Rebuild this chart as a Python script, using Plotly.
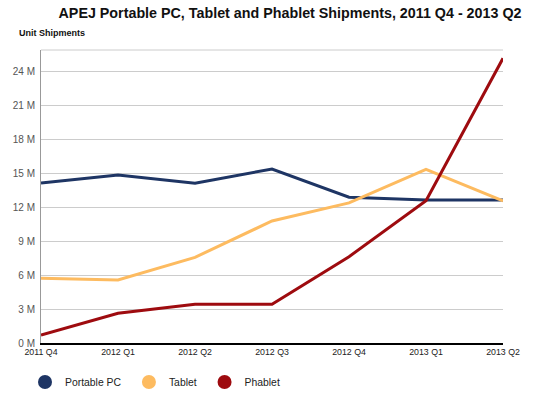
import plotly.graph_objects as go

quarters = ["2011 Q4", "2012 Q1", "2012 Q2", "2012 Q3", "2012 Q4", "2013 Q1", "2013 Q2"]
portable_pc = [14.15, 14.87, 14.13, 15.4, 12.9, 12.65, 12.65]
tablet = [5.72, 5.57, 7.58, 10.8, 12.4, 15.37, 12.57]
phablet = [0.7, 2.63, 3.42, 3.42, 7.64, 12.6, 25.2]
y_ticks = [0, 3, 6, 9, 12, 15, 18, 21, 24]
y_tick_labels = [f"{v} M" for v in y_ticks]

series = [
    ("Portable PC", portable_pc, "#1e3564"),
    ("Tablet", tablet, "#fdbb60"),
    ("Phablet", phablet, "#9e0b0f"),
]

fig = go.Figure()
for name, vals, color in series:
    fig.add_trace(go.Scatter(
        x=list(range(len(quarters))), y=vals, mode="lines", name=name,
        line=dict(color=color, width=3), showlegend=False,
    ))
for name, vals, color in series:
    fig.add_trace(go.Scatter(
        x=[None], y=[None], mode="markers", name=name + "\u00a0",
        marker=dict(color=color, size=14), showlegend=True,
    ))

font = "Liberation Sans, Arial, sans-serif"
fig.update_layout(
    width=559, height=394,
    margin=dict(l=41, r=56, t=50, b=51, autoexpand=False),
    paper_bgcolor="white", plot_bgcolor="white",
    font=dict(family=font, size=9, color="#444"),
    title=dict(text="<b>APEJ Portable PC, Tablet and Phablet Shipments, 2011 Q4 - 2013 Q2</b>",
               x=290 / 559, xanchor="center", xref="container",
               y=1 - 13 / 394, yanchor="middle", yref="container",
               font=dict(family=font, size=14.3, color="#111")),
    xaxis=dict(
        range=[0, len(quarters) - 1], tickmode="array",
        tickvals=list(range(len(quarters))), ticktext=quarters,
        showgrid=False, showline=True, linecolor="#000", linewidth=1.5,
        ticks="", tickfont=dict(size=8.8, color="#222"), zeroline=False,
    ),
    yaxis=dict(
        range=[0, 25.93], tickmode="array", tickvals=y_ticks, ticktext=y_tick_labels,
        showgrid=True, gridcolor="#cccccc", gridwidth=1,
        showline=True, linecolor="#999", linewidth=1, ticks="",
        tickfont=dict(size=10, color="#555"), zeroline=False, ticklabelstandoff=3,
    ),
    legend=dict(orientation="h", x=25 / 559, xref="container", xanchor="left",
                y=12 / 394, yref="container", yanchor="middle",
                font=dict(family=font, size=10.4, color="#222"),
                itemsizing="trace", bgcolor="rgba(0,0,0,0)"),
    annotations=[dict(text="<b>Unit Shipments</b>", xref="paper", yref="paper",
                      x=-24 / 462, y=1 + 17 / 292, xanchor="left", yanchor="middle",
                      showarrow=False, font=dict(family=font, size=9, color="#111"))],
    shapes=[dict(type="line", xref="paper", yref="paper", x0=0, x1=1, y0=1, y1=1,
                 line=dict(color="#cccccc", width=1))],
)

fig.write_html("out.html", config={"displayModeBar": False},
               post_script="document.body.style.margin='0';document.body.style.overflow='hidden';")
